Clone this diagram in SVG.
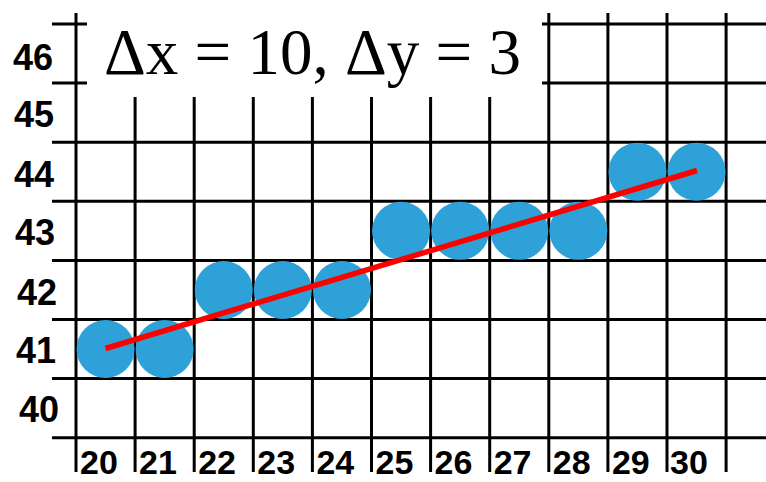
<svg xmlns="http://www.w3.org/2000/svg" width="766" height="482" viewBox="0 0 766 482">
<style>
.g{stroke:#000;stroke-width:3;fill:none}
.px{fill:#2ea2d8}
.lab{font-family:"Liberation Sans",Arial,sans-serif;font-weight:bold;font-size:36px;fill:#000}
.xl{font-size:34px}
.title{font-family:"Liberation Serif","Times New Roman",serif;font-size:65px;fill:#000}
</style>
<rect width="766" height="482" fill="#fff"/>
<g id="grid" class="g">
<line x1="52" y1="24" x2="87" y2="24"/>
<line x1="542" y1="24" x2="766" y2="24"/>
<line x1="52" y1="83.1" x2="87" y2="83.1"/>
<line x1="542" y1="83.1" x2="766" y2="83.1"/>
<line x1="52" y1="142.2" x2="766" y2="142.2"/>
<line x1="52" y1="201.3" x2="766" y2="201.3"/>
<line x1="52" y1="260.4" x2="766" y2="260.4"/>
<line x1="52" y1="319.5" x2="766" y2="319.5"/>
<line x1="52" y1="378.6" x2="766" y2="378.6"/>
<line x1="52" y1="437.7" x2="766" y2="437.7"/>
<line x1="76" y1="13" x2="76" y2="472"/>
<line x1="135.1" y1="97" x2="135.1" y2="472"/>
<line x1="194.2" y1="97" x2="194.2" y2="472"/>
<line x1="253.3" y1="97" x2="253.3" y2="472"/>
<line x1="312.4" y1="97" x2="312.4" y2="472"/>
<line x1="371.5" y1="97" x2="371.5" y2="472"/>
<line x1="430.6" y1="97" x2="430.6" y2="472"/>
<line x1="489.7" y1="97" x2="489.7" y2="472"/>
<line x1="548.8" y1="13" x2="548.8" y2="472"/>
<line x1="607.9" y1="13" x2="607.9" y2="472"/>
<line x1="667" y1="13" x2="667" y2="472"/>
<line x1="726.1" y1="13" x2="726.1" y2="472"/>
</g>
<text class="title" x="104" y="74">Δx = 10, Δy = 3</text>
<g id="ylabels" class="lab" text-anchor="end">
<text x="53" y="70">46</text>
<text x="54" y="127">45</text>
<text x="54" y="187">44</text>
<text x="55" y="245">43</text>
<text x="57" y="305">42</text>
<text x="56" y="363">41</text>
<text x="59" y="422">40</text>
</g>
<g id="xlabels" class="lab xl">
<text x="80" y="474">20</text>
<text x="139.1" y="474">21</text>
<text x="198.2" y="474">22</text>
<text x="257.3" y="474">23</text>
<text x="316.4" y="474">24</text>
<text x="375.5" y="474">25</text>
<text x="434.6" y="474">26</text>
<text x="493.7" y="474">27</text>
<text x="552.8" y="474">28</text>
<text x="611.9" y="474">29</text>
<text x="670" y="474">30</text>
</g>
<g id="p20" class="px"><circle cx="105.55" cy="349.05" r="29"/></g>
<g id="p21" class="px"><circle cx="164.65" cy="349.05" r="29"/></g>
<g id="p22" class="px"><circle cx="223.75" cy="289.95" r="29"/></g>
<g id="p23" class="px"><circle cx="282.85" cy="289.95" r="29"/></g>
<g id="p24" class="px"><circle cx="341.95" cy="289.95" r="29"/></g>
<g id="p25" class="px"><circle cx="401.05" cy="230.85" r="29"/></g>
<g id="p26" class="px"><circle cx="460.15" cy="230.85" r="29"/></g>
<g id="p27" class="px"><circle cx="519.25" cy="230.85" r="29"/></g>
<g id="p28" class="px"><circle cx="578.35" cy="230.85" r="29"/></g>
<g id="p29" class="px"><circle cx="637.45" cy="171.75" r="29"/></g>
<g id="p30" class="px"><circle cx="696.55" cy="171.75" r="29"/></g>
<g id="connectors">
<line x1="105.5" y1="348.5" x2="697" y2="170.5" stroke="#ff0000" stroke-width="5.5"/>
</g>
</svg>
